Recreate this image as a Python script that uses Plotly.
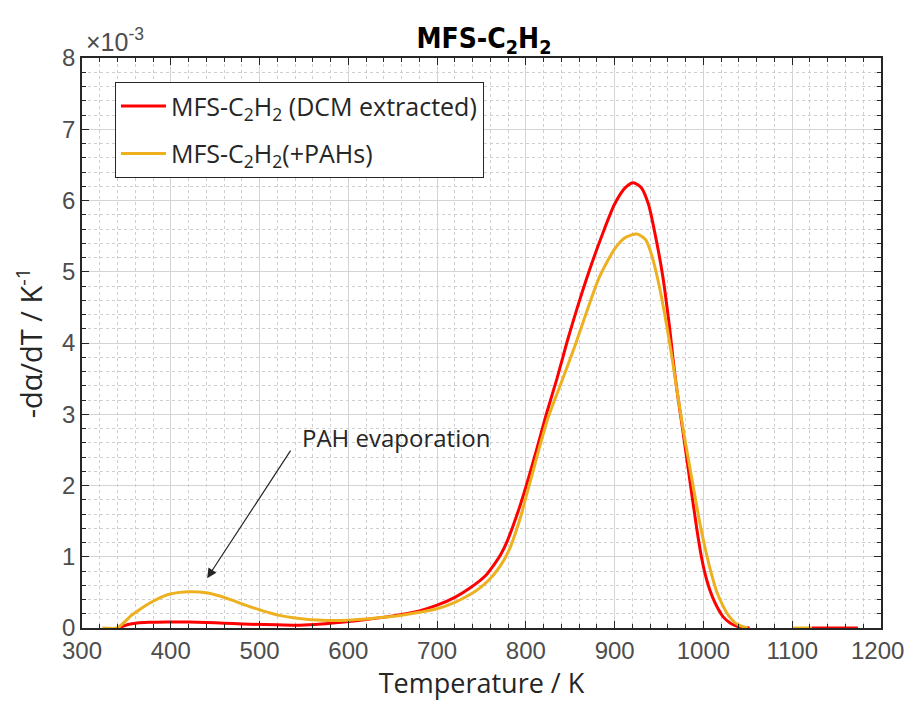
import plotly.graph_objects as go

# ---- data (values in units of 1e-3 K^-1) ----
T_dcm = [340, 345, 352, 362, 375, 395, 412, 430, 450, 470, 490, 520, 545, 570, 592, 620, 650, 680,
         700, 720, 737, 755, 763, 772, 779, 786, 793, 800, 812, 823, 835, 846, 858, 871, 886, 900, 912, 921,
         930, 938, 946, 954, 962, 966, 970, 977, 983, 988, 993, 998, 1004, 1010, 1016, 1022,
         1030, 1038, 1045, 1052, None, 1122, 1174]
Y_dcm = [0, 0.02, 0.05, 0.07, 0.08, 0.085, 0.085, 0.08, 0.072, 0.062, 0.052, 0.045, 0.04, 0.055, 0.08, 0.12, 0.17, 0.24,
         0.32, 0.43, 0.56, 0.74, 0.87, 1.04, 1.22, 1.45, 1.7, 1.98, 2.5, 3.0, 3.5, 4.0, 4.5, 5.0, 5.52, 5.95, 6.18, 6.25,
         6.18, 5.95, 5.5, 4.95, 4.2, 3.75, 3.35, 2.75, 2.22, 1.78, 1.35, 0.98, 0.66, 0.44, 0.28, 0.16,
         0.07, 0.025, 0.008, 0, None, 0, 0]

T_pah = [323, 340, 344, 350, 356, 365, 375, 387, 397, 410, 421, 432, 442, 455, 469, 484, 499, 512, 525,
         540, 555, 570, 585, 600, 620, 640, 660, 680, 700, 720, 740, 749, 758, 767, 776, 783, 789, 795, 801,
         807, 813, 825, 840, 855, 868, 883, 900, 912, 925, 935, 942, 949, 956, 963, 966, 970, 977, 984,
         990, 996, 1003, 1009, 1015, 1022, 1028, 1035, 1042, 1050, None, 1101, 1122]
Y_pah = [0, 0, 0.04, 0.11, 0.18, 0.26, 0.34, 0.42, 0.47, 0.5, 0.51, 0.505, 0.49, 0.45, 0.39, 0.32, 0.26, 0.21, 0.17,
         0.14, 0.12, 0.11, 0.105, 0.11, 0.125, 0.15, 0.18, 0.22, 0.27, 0.36, 0.49, 0.57, 0.67, 0.8, 0.97, 1.15, 1.36, 1.6, 1.88,
         2.15, 2.43, 2.95, 3.45, 3.95, 4.42, 4.93, 5.32, 5.48, 5.53, 5.45, 5.22, 4.87, 4.43, 3.92, 3.68, 3.35, 2.8, 2.3,
         1.88, 1.47, 1.06, 0.76, 0.51, 0.31, 0.18, 0.08, 0.03, 0, None, 0, 0]

x_ticks = [300, 400, 500, 600, 700, 800, 900, 1000, 1100, 1200]
x_ticktext = ["300", "400", "500", "600", "700", "800", "900", "1000", "1100", "1200"]
y_ticks = [0, 1, 2, 3, 4, 5, 6, 7, 8]

name_dcm = "MFS-C<sub>2</sub>H<sub>2</sub> (DCM extracted)"
name_pah = "MFS-C<sub>2</sub>H<sub>2</sub>(+PAHs)"

RED = "#FF0000"
ORANGE = "#EDB120"
AXC = "#262626"
TICKC = "#4d4d4d"
TEXT_FONT = "Open Sans, Noto Sans, sans-serif"
NUM_FONT = "Liberation Sans, Arial, sans-serif"
TICK_SIZE = 24

# page body has an 8px margin: figure is shifted by (8, 8)
W, H = 897, 701
ML, MR, MT, MB = 74, 24, 50, 81

fig = go.Figure()
fig.add_trace(go.Scatter(x=T_dcm, y=Y_dcm, mode="lines", name=name_dcm,
                         line=dict(color=RED, width=3, shape="spline", smoothing=0.7),
                         legendgroup="a"))
fig.add_trace(go.Scatter(x=T_pah, y=Y_pah, mode="lines", name=name_pah,
                         line=dict(color=ORANGE, width=3, shape="spline", smoothing=0.7),
                         legendgroup="b"))

axis_common = dict(
    showline=True, linecolor=AXC, linewidth=1.5, mirror="allticks",
    ticks="inside", ticklen=7, tickwidth=1.2, tickcolor=AXC,
    showgrid=True, gridcolor="#d4d4d4", gridwidth=1,
    zeroline=False,
    tickfont=dict(family=NUM_FONT, size=TICK_SIZE, color=TICKC),
)

# last x label would overflow the page edge: draw it as an annotation flush with the edge
fig.update_xaxes(range=[300, 1200], tickvals=x_ticks, ticktext=x_ticktext[:-1] + [""],
                 minor=dict(dtick=20, ticks="inside", ticklen=4, tickcolor=AXC,
                            showgrid=True, gridcolor="#cfcfcf", griddash="dot", gridwidth=1),
                 title=dict(text="Temperature / K", font=dict(family=TEXT_FONT, size=27, color=AXC),
                            standoff=9),
                 **axis_common)
fig.update_yaxes(range=[0, 8], tickvals=y_ticks,
                 minor=dict(dtick=0.2, ticks="inside", ticklen=4, tickcolor=AXC,
                            showgrid=True, gridcolor="#cfcfcf", griddash="dot", gridwidth=1),
                 title=dict(text="-dα/dT / K<sup>-1</sup>", font=dict(family=TEXT_FONT, size=29, color=AXC),
                            standoff=12),
                 **axis_common)

fig.update_layout(
    width=W, height=H,
    margin=dict(l=ML, r=MR, t=MT, b=MB),
    paper_bgcolor="white", plot_bgcolor="white",
    title=dict(text="<b>MFS-C<sub>2</sub>H<sub>2</sub></b>", x=0.503, xref="paper",
               y=1 - 30 / H, yanchor="middle", xanchor="center",
               font=dict(family="Liberation Sans Narrow, DejaVu Sans Condensed, Arial Narrow, sans-serif",
                         size=28, color="black")),
    legend=dict(x=0.041, y=0.958, xanchor="left", yanchor="top",
                bgcolor="white", bordercolor=AXC, borderwidth=1.2,
                font=dict(family=TEXT_FONT, size=25, color=AXC),
                tracegroupgap=12, itemwidth=45),
    showlegend=True,
)

fig.add_annotation(x=1200, y=0, xref="x", yref="paper", xanchor="right", yanchor="middle",
                   xshift=MR, yshift=-22, borderpad=0,
                   text=x_ticktext[-1], showarrow=False,
                   font=dict(family=NUM_FONT, size=TICK_SIZE, color=TICKC))

fig.add_annotation(x=0.003, y=1.0, xref="paper", yref="paper", xanchor="left", yanchor="bottom",
                   text="×10<sup>-3</sup>", showarrow=False,
                   font=dict(family=NUM_FONT, size=25, color=TICKC))

fig.add_annotation(x=441, y=0.70, xref="x", yref="y", ax=536, ay=2.51, axref="x", ayref="y",
                   text="", showarrow=True, arrowhead=2, arrowsize=1.6, arrowwidth=1.2,
                   arrowcolor=AXC)
fig.add_annotation(x=545, y=2.68, xref="x", yref="y", xanchor="left", yanchor="middle",
                   text="PAH evaporation", showarrow=False,
                   font=dict(family=TEXT_FONT, size=24, color=AXC))

fig.write_html("out.html")
